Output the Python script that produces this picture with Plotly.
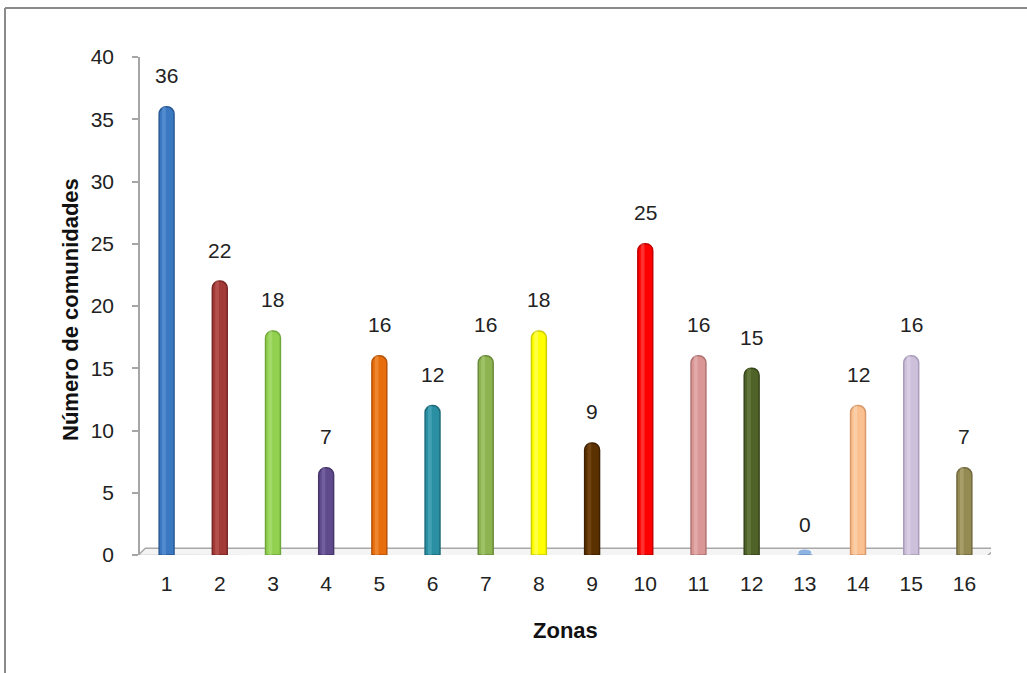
import plotly.graph_objects as go

# Communities per zone
zonas = list(range(1, 17))
zona_labels = [str(z) for z in zonas]
comunidades = [36, 22, 18, 7, 16, 12, 16, 18, 9, 25, 16, 15, 0, 12, 16, 7]

# one colour per zone: body, darker edge, highlight
body = ["#3b78c2", "#a23a37", "#92d050", "#5f4b8b", "#e86d0c", "#2b8fa3",
        "#8db451", "#ffff00", "#5c3100", "#ff0000", "#d99694", "#4f6228",
        "#8db3e2", "#fac090", "#ccc0da", "#948a54"]
edge = ["#2a5a96", "#7a2624", "#6fa83a", "#45356b", "#b5540a", "#1d6b7b",
        "#6a8a3a", "#cccc00", "#3d2000", "#c00000", "#b07573", "#36441b",
        "#6b93c4", "#d9996a", "#a99cba", "#72693e"]
light = ["#6fa4e0", "#c86a67", "#b6e487", "#8a78b4", "#f7a25a", "#5fb7c8",
         "#b4d283", "#ffff99", "#8a5a2a", "#ff6a6a", "#ecc4c3", "#7a8d4f",
         "#c0d6f2", "#fde0c4", "#e6def0", "#bdb482"]

W, H = 1027, 673
L, R, T, B = 140, 36, 57, 118
pw, ph = W - L - R, H - T - B


def px_x(p):
    return (p - L) / pw


def px_y(p):
    return (H - B - p) / ph


fig = go.Figure()

# cylinder body
fig.add_trace(go.Bar(
    x=zonas, y=comunidades, width=0.28,
    marker=dict(color=body, line=dict(color=edge, width=1.5), cornerradius=7),
    hoverinfo="skip", showlegend=False,
))
# highlight strip
fig.add_trace(go.Bar(
    x=zonas, y=comunidades, width=0.07, offset=-0.085,
    marker=dict(color=light, line=dict(width=0), cornerradius=3, opacity=0.45),
    hoverinfo="skip", showlegend=False,
))

shapes = []
# floor of the 3D plot area
shapes.append(dict(
    type="path", xref="x", yref="y", layer="below",
    path="M 0.46,-0.05 L 0.6,0.55 L 16.6,0.55 L 16.42,-0.1 Z",
    fillcolor="#f4f4f4", line=dict(color="#a8a8a8", width=1.5),
))
# cylinder bases
for z, c in zip(zonas, body):
    shapes.append(dict(
        type="circle", xref="x", yref="y", layer="below",
        x0=z - 0.12, x1=z + 0.12, y0=-0.05, y1=0.45,
        fillcolor=c, line=dict(width=0),
    ))
# frame around the chart
shapes.append(dict(type="line", xref="paper", yref="paper",
                   x0=px_x(5), x1=px_x(W + 5), y0=px_y(8), y1=px_y(8),
                   line=dict(color="#8a8a8a", width=2)))
shapes.append(dict(type="line", xref="paper", yref="paper",
                   x0=px_x(5), x1=px_x(5), y0=px_y(8), y1=px_y(H + 5),
                   line=dict(color="#8a8a8a", width=2)))

label_font = dict(family="Liberation Sans, Arial", size=21, color="#222222")

annotations = []
for z, v in zip(zonas, comunidades):
    annotations.append(dict(
        x=z, y=v, xref="x", yref="y", text=str(v), showarrow=False,
        yanchor="middle", yshift=31, font=label_font,
    ))

title_font = dict(family="Liberation Sans Narrow, Arial Narrow, Liberation Sans",
                  size=22, color="#111111")
annotations.append(dict(
    text="<b>Número de comunidades</b>", xref="paper", yref="paper",
    x=px_x(70), y=px_y(310), textangle=-90, showarrow=False,
    xanchor="center", yanchor="middle", font=title_font,
))
annotations.append(dict(
    text="<b>Zonas</b>", xref="paper", yref="paper",
    x=px_x(565), y=px_y(630), showarrow=False,
    xanchor="center", yanchor="middle", font=title_font,
))

fig.update_layout(
    width=W, height=H,
    margin=dict(l=L, r=R, t=T, b=B, pad=0),
    paper_bgcolor="white", plot_bgcolor="white",
    barmode="overlay",
    shapes=shapes, annotations=annotations,
    xaxis=dict(
        range=[0.5, 16.5], tickvals=zonas, ticktext=zona_labels,
        showgrid=False, zeroline=False, showline=False, ticks="",
        ticklabelstandoff=14, tickfont=label_font,
    ),
    yaxis=dict(
        range=[0, 40], tickvals=[0, 5, 10, 15, 20, 25, 30, 35, 40],
        showgrid=False, zeroline=False, showline=True,
        linecolor="#a6a6a6", linewidth=1.5,
        ticks="outside", ticklen=6, tickcolor="#a6a6a6", tickwidth=1.5,
        ticklabelstandoff=14, tickfont=label_font,
    ),
)

fig.write_html("out.html")
